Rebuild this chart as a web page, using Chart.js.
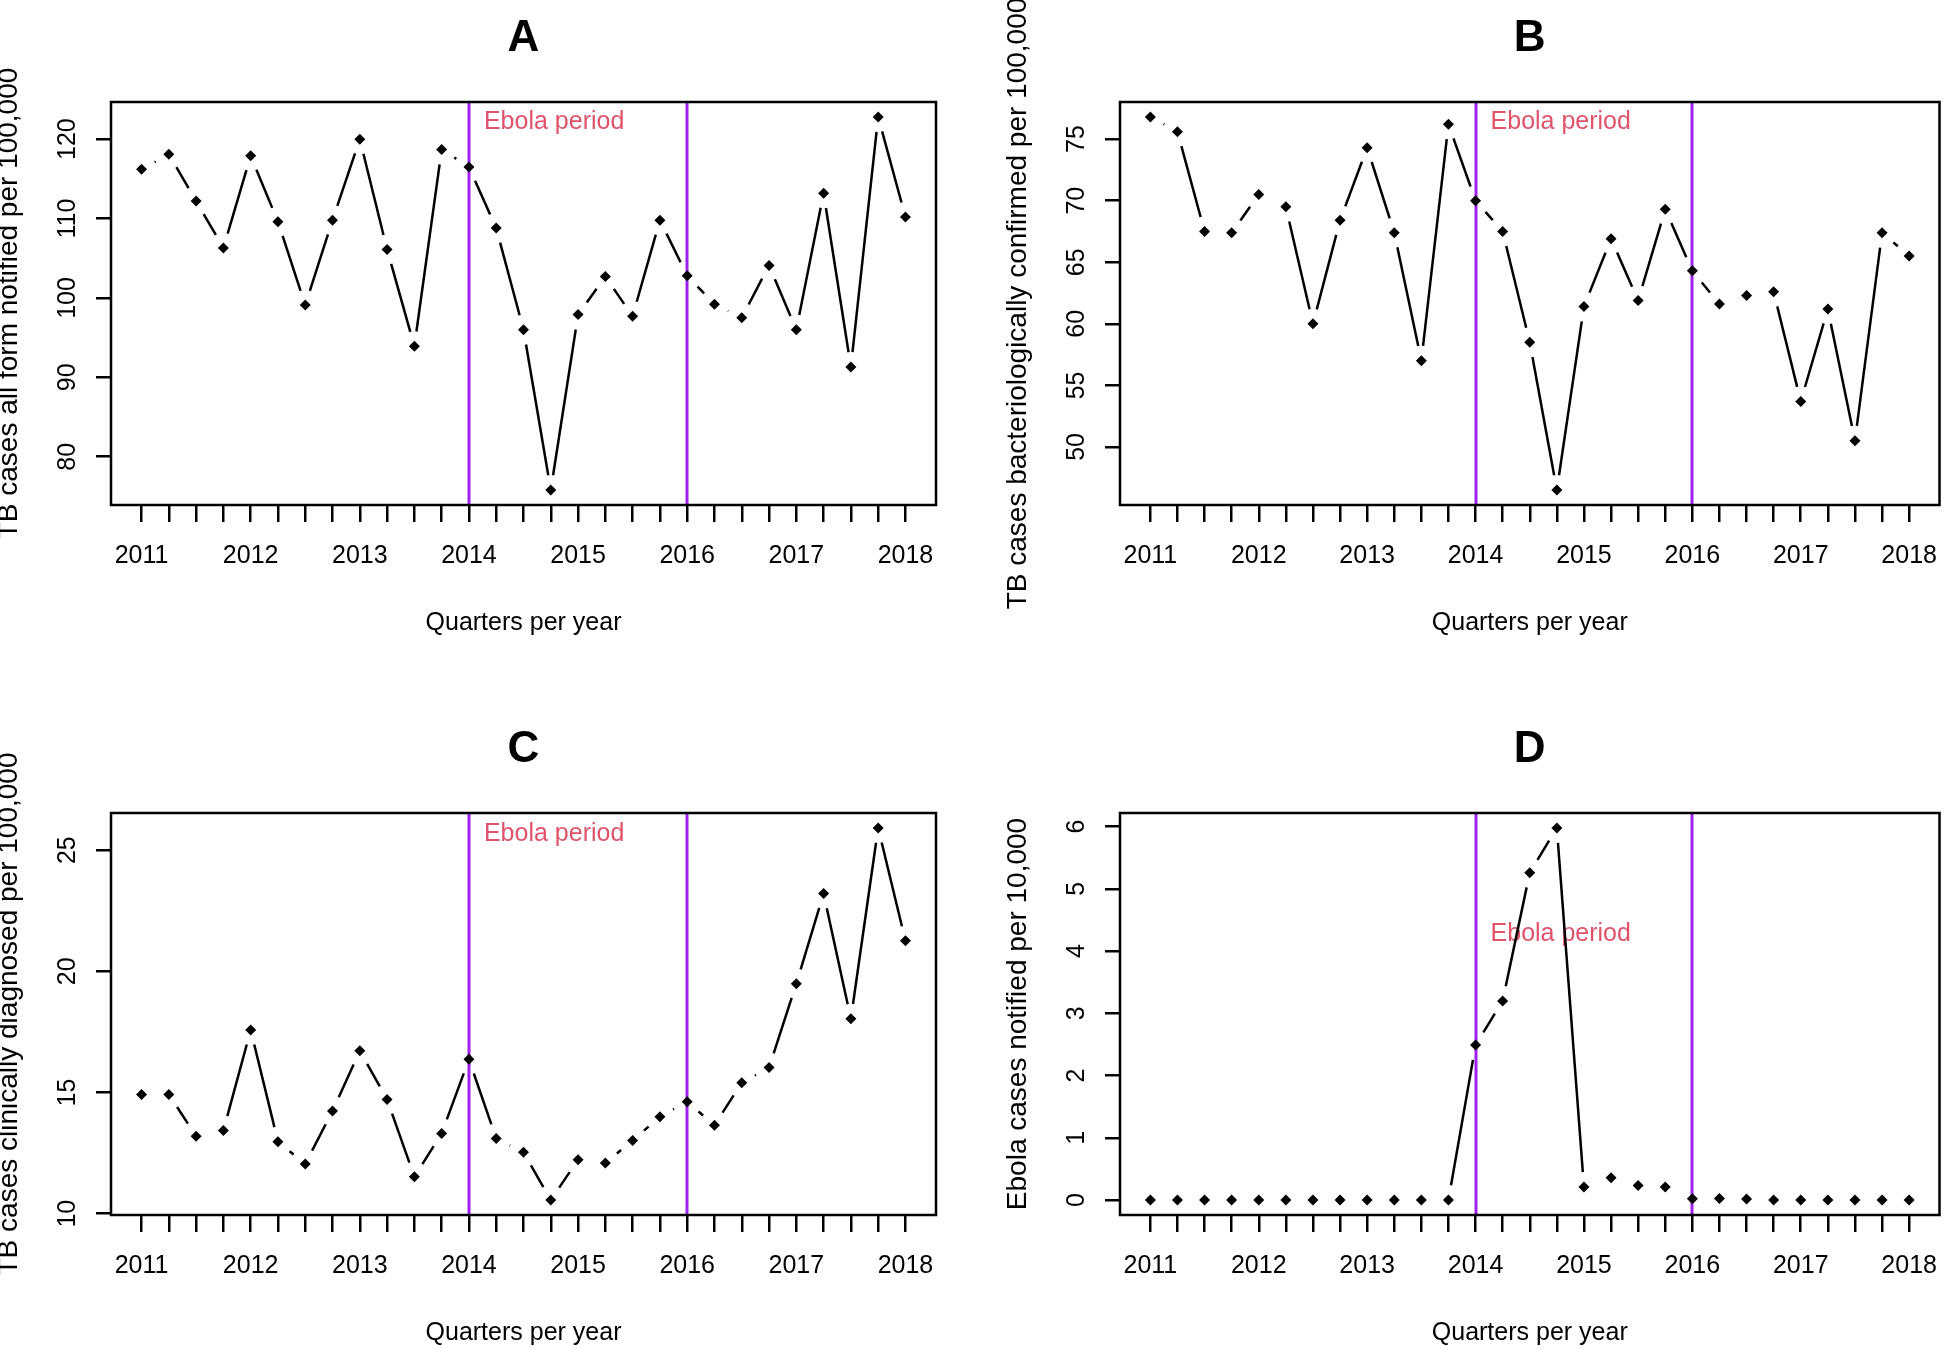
<!DOCTYPE html>
<html><head><meta charset="utf-8">
<script src="https://cdn.jsdelivr.net/npm/chart.js@4.4.1/dist/chart.umd.min.js"></script>
<style>
body{margin:0;background:#fff;width:1945px;height:1349px;overflow:hidden;position:relative}
canvas{position:absolute}
</style></head>
<body>
<canvas id="cA"></canvas><canvas id="cB"></canvas><canvas id="cC"></canvas><canvas id="cD"></canvas>
<script>
// ---------- DATA ----------
const quarters = ['2011 Q1','2011 Q2','2011 Q3','2011 Q4','2012 Q1','2012 Q2','2012 Q3','2012 Q4',
  '2013 Q1','2013 Q2','2013 Q3','2013 Q4','2014 Q1','2014 Q2','2014 Q3','2014 Q4',
  '2015 Q1','2015 Q2','2015 Q3','2015 Q4','2016 Q1','2016 Q2','2016 Q3','2016 Q4',
  '2017 Q1','2017 Q2','2017 Q3','2017 Q4','2018 Q1'];
const yearLabels = ['2011','2012','2013','2014','2015','2016','2017','2018'];
const ebolaStart = '2014 Q1';
const ebolaEnd = '2016 Q1';

const tbAllForm = [116.2,118.1,112.2,106.3,117.9,109.6,99.1,109.8,120.0,106.1,93.9,118.7,116.5,108.8,96.0,75.8,
  97.9,102.7,97.7,109.8,102.8,99.2,97.5,104.1,96.0,113.2,91.3,122.8,110.2];
const tbBact = [76.8,75.6,67.5,67.4,70.5,69.5,60.0,68.4,74.3,67.4,57.0,76.2,70.0,67.5,58.5,46.5,
  61.4,66.9,61.9,69.3,64.3,61.6,62.3,62.6,53.7,61.2,50.5,67.4,65.5];
const tbClinical = [14.92,14.92,13.2,13.43,17.58,12.97,12.05,14.24,16.72,14.71,11.52,13.31,16.37,13.1,12.53,10.56,
  12.23,12.09,13.02,14.0,14.62,13.65,15.4,16.03,19.49,23.21,18.04,25.92,21.26];
const ebolaCases = [0,0,0,0,0,0,0,0,0,0,0,0,2.49,3.2,5.26,5.98,
  0.21,0.36,0.235,0.21,0.02,0.027,0.016,0,0,0,0,0,0];

const ticksA = [80,90,100,110,120];
const ticksB = [50,55,60,65,70,75];
const ticksC = [10,15,20,25];
const ticksD = [0,1,2,3,4,5,6];

// ---------- STYLE / LAYOUT ----------
const FONT = '"Liberation Sans", Arial, Helvetica, sans-serif';
Chart.defaults.font.family = FONT;
Chart.defaults.color = '#000';

const rStyle = {
  id: 'rStyle',
  beforeDatasetsDraw(chart, args, o) {
    const {ctx, chartArea: a, scales: {x, y}} = chart;
    ctx.save();
    // Ebola period boundaries
    ctx.strokeStyle = '#A020F0'; ctx.lineWidth = 3;
    [ebolaStart, ebolaEnd].forEach(q => {
      const px = Math.round(x.getPixelForValue(quarters.indexOf(q)));
      ctx.beginPath(); ctx.moveTo(px, a.top); ctx.lineTo(px, a.bottom); ctx.stroke();
    });
    ctx.fillStyle = '#DF536B'; ctx.font = '25px ' + FONT;
    ctx.textAlign = 'left'; ctx.textBaseline = 'middle';
    ctx.fillText('Ebola period', x.getPixelForValue(quarters.indexOf(ebolaStart)) + 15, y.getPixelForValue(o.textY));
    // type="b" style lines: segments with gaps around points
    const pts = chart.getDatasetMeta(0).data;
    const gap = 15;
    ctx.strokeStyle = '#000'; ctx.lineWidth = 2.5; ctx.lineCap = 'butt';
    for (let i = 0; i < pts.length - 1; i++) {
      const p = pts[i], q = pts[i + 1];
      const dx = q.x - p.x, dy = q.y - p.y, L = Math.hypot(dx, dy);
      if (L <= 2 * gap) continue;
      const ux = dx / L, uy = dy / L;
      ctx.beginPath();
      ctx.moveTo(p.x + ux * gap, p.y + uy * gap);
      ctx.lineTo(q.x - ux * gap, q.y - uy * gap);
      ctx.stroke();
    }
    ctx.restore();
  },
  afterDraw(chart, args, o) {
    const {ctx, chartArea: a, scales: {y}} = chart;
    ctx.save();
    ctx.strokeStyle = '#000'; ctx.lineWidth = 2.5;
    ctx.strokeRect(a.left, a.top, a.right - a.left, a.bottom - a.top);
    ctx.fillStyle = '#000';
    ctx.font = '25px ' + FONT; ctx.textAlign = 'center'; ctx.textBaseline = 'middle';
    // rotated y tick labels
    y.ticks.forEach(t => {
      ctx.save();
      ctx.translate(a.left - 43, y.getPixelForValue(t.value));
      ctx.rotate(-Math.PI / 2);
      ctx.fillText(String(t.value), 0, 0);
      ctx.restore();
    });
    // x axis title
    ctx.fillText('Quarters per year', (a.left + a.right) / 2, a.bottom + 118);
    // y axis title
    ctx.save();
    ctx.font = '28px ' + FONT;
    ctx.translate(a.left - 102, (a.top + a.bottom) / 2);
    ctx.rotate(-Math.PI / 2);
    ctx.fillText(o.yTitle, 0, 0);
    ctx.restore();
    // panel title
    ctx.font = 'bold 44px ' + FONT; ctx.textBaseline = 'alphabetic';
    ctx.fillText(o.title, (a.left + a.right) / 2, a.top - 51);
    ctx.restore();
  }
};

function makePanel(id, rect, area, letter, yTitle, values, yTicks, textY) {
  const el = document.getElementById(id);
  el.width = rect.w; el.height = rect.h;
  el.style.left = rect.left + 'px'; el.style.top = rect.top + 'px';
  el.style.width = rect.w + 'px'; el.style.height = rect.h + 'px';
  const lo = Math.min(...values), hi = Math.max(...values), ext = (hi - lo) * 0.04;
  const n = quarters.length - 1;
  const yW = area.l - rect.left, xH = rect.top + rect.h - area.b;
  new Chart(el, {
    type: 'scatter',
    data: { datasets: [{
      data: values.map((v, i) => ({x: i, y: v})),
      pointStyle: 'rectRot', pointRadius: 5.5, pointHoverRadius: 5.5,
      backgroundColor: '#000', borderColor: '#000', borderWidth: 0, showLine: false
    }]},
    options: {
      responsive: false, animation: false, devicePixelRatio: 1,
      layout: { padding: { top: area.t - rect.top, right: rect.left + rect.w - area.r, left: 0, bottom: 0 } },
      plugins: { legend: {display: false}, tooltip: {enabled: false},
        rStyle: { title: letter, yTitle: yTitle, textY: textY } },
      scales: {
        x: { type: 'linear', min: -0.04 * n, max: n * 1.04,
          afterBuildTicks: s => { s.ticks = quarters.map((q, i) => ({value: i})); },
          afterFit: s => { s.height = xH; s.paddingLeft = 0; s.paddingRight = 0; },
          grid: { drawOnChartArea: false, drawTicks: true, tickLength: 17, color: '#000', lineWidth: 2.5 },
          border: { display: false },
          ticks: { autoSkip: false, maxRotation: 0, minRotation: 0, padding: 19, color: '#000',
            font: { size: 25, family: FONT },
            callback: v => (v % 4 === 0 ? yearLabels[v / 4] : '') } },
        y: { type: 'linear', min: lo - ext, max: hi + ext,
          afterBuildTicks: s => { s.ticks = yTicks.map(v => ({value: v})); },
          afterFit: s => { s.width = yW; s.paddingTop = 0; s.paddingBottom = 0; },
          grid: { drawOnChartArea: false, drawTicks: true, tickLength: 15, color: '#000', lineWidth: 2.5 },
          border: { display: false },
          ticks: { display: false } }
      }
    },
    plugins: [rStyle]
  });
}

makePanel('cA', {left: 0, top: 0, w: 972, h: 674}, {l: 111, t: 102, r: 936, b: 505},
  'A', 'TB cases all form notified per 100,000', tbAllForm, ticksA, 122.2);
makePanel('cB', {left: 972, top: 0, w: 973, h: 674}, {l: 1120, t: 102, r: 1942, b: 505},
  'B', 'TB cases bacteriologically confirmed per 100,000', tbBact, ticksB, 76.35);
makePanel('cC', {left: 0, top: 674, w: 972, h: 675}, {l: 111, t: 813, r: 936, b: 1215},
  'C', 'TB cases clinically diagnosed per 100,000', tbClinical, ticksC, 25.67);
makePanel('cD', {left: 972, top: 674, w: 973, h: 675}, {l: 1120, t: 813, r: 1942, b: 1215},
  'D', 'Ebola cases notified per 10,000', ebolaCases, ticksD, 4.28);
</script>
</body></html>
